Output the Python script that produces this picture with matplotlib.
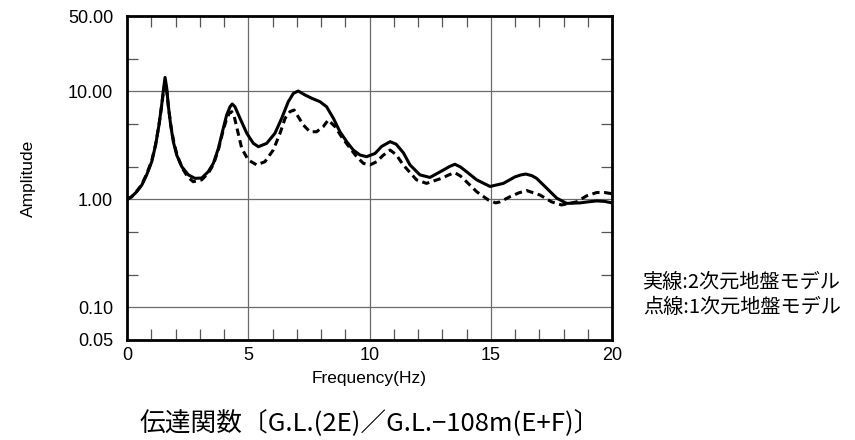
import matplotlib
matplotlib.use("Agg")
import matplotlib.pyplot as plt
from matplotlib.ticker import FixedLocator, NullFormatter, FixedFormatter

plt.rcParams['font.family'] = ['Liberation Sans Narrow', 'Liberation Sans', 'DejaVu Sans']

# Solid: 2D ground model
freq_2d = [0.0, 0.19, 0.40, 0.61, 0.81, 1.02, 1.18, 1.32, 1.43, 1.51, 1.57, 1.64, 1.70,
           1.80, 1.91, 2.05, 2.26, 2.53, 2.80, 3.08, 3.35, 3.56, 3.77, 3.97, 4.11, 4.25,
           4.34, 4.45, 4.66, 4.94, 5.21, 5.42, 5.76, 6.10, 6.38, 6.65, 6.86, 7.06, 7.34,
           7.62, 7.96, 8.23, 8.51, 8.78, 9.06, 9.33, 9.61, 9.88, 10.23, 10.50, 10.85,
           11.10, 11.40, 11.67, 12.08, 12.49, 13.04, 13.30, 13.52, 13.75, 14.00, 14.42,
           14.97, 15.52, 16.00, 16.25, 16.45, 16.70, 16.89, 17.31, 17.72, 18.13, 18.68,
           19.00, 19.37, 19.70, 20.0]
amp_2d = [1.00, 1.06, 1.18, 1.36, 1.69, 2.24, 3.20, 4.90, 7.50, 10.7, 13.5, 10.7, 7.50,
          4.90, 3.43, 2.58, 2.01, 1.69, 1.57, 1.58, 1.81, 2.16, 2.98, 4.56, 6.06, 7.23,
          7.66, 7.23, 5.65, 4.10, 3.31, 3.08, 3.31, 4.10, 5.65, 8.04, 9.60, 10.1, 9.29,
          8.65, 8.04, 7.23, 5.65, 4.24, 3.43, 2.87, 2.58, 2.49, 2.67, 3.10, 3.43,
          3.25, 2.70, 2.09, 1.69, 1.60, 1.87, 2.02, 2.12, 2.00, 1.81, 1.52,
          1.32, 1.41, 1.62, 1.69, 1.72, 1.66, 1.57, 1.27, 1.03, 0.92, 0.93,
          0.95, 0.97, 0.96, 0.93]

# Dashed: 1D ground model
freq_1d = [0.0, 0.19, 0.40, 0.61, 0.81, 1.02, 1.18, 1.32, 1.43, 1.51, 1.57, 1.64, 1.71,
           1.81, 1.93, 2.07, 2.28, 2.50, 2.73, 3.08, 3.35, 3.56, 3.77, 3.97, 4.11, 4.22,
           4.32, 4.42, 4.52, 4.73, 5.00, 5.35, 5.69, 6.03, 6.31, 6.52, 6.72, 6.89, 7.06,
           7.27, 7.54, 7.82, 8.09, 8.30, 8.58, 8.85, 9.20, 9.47, 9.75, 10.02, 10.30,
           10.55, 10.85, 11.10, 11.39, 11.94, 12.35, 12.97, 13.30, 13.52, 13.75, 14.00,
           14.42, 14.90, 15.20, 15.38, 15.79, 16.15, 16.48, 17.03, 17.51, 17.92, 18.54,
           18.95, 19.37, 19.70, 20.0]
amp_1d = [1.00, 1.06, 1.19, 1.38, 1.72, 2.28, 3.25, 4.95, 7.40, 10.3, 12.0, 10.0, 7.20,
          4.80, 3.40, 2.55, 1.95, 1.62, 1.46, 1.52, 1.75, 2.10, 2.90, 4.40, 5.60, 6.30,
          6.50, 5.90, 4.72, 2.98, 2.32, 2.09, 2.24, 2.87, 4.10, 5.65, 6.50, 6.74, 5.84,
          4.90, 4.24, 4.24, 4.72, 5.45, 4.72, 3.80, 2.98, 2.49, 2.16, 2.09, 2.24,
          2.55, 2.87, 2.60, 2.09, 1.52, 1.41, 1.57, 1.70, 1.77, 1.65, 1.46,
          1.18, 0.99, 0.93, 0.95, 1.06, 1.15, 1.21, 1.10, 0.95, 0.89, 0.95,
          1.08, 1.16, 1.16, 1.13]

y_major = [0.05, 0.1, 1, 10, 50]
y_labels = ['0.05', '0.10', '1.00', '10.00', '50.00']
y_minor = [0.2, 0.5, 2, 5, 20]
y_grid = [0.1, 1, 10]
x_major = [0, 5, 10, 15, 20]
x_labels = ['0', '5', '10', '15', '20']
x_minor = [1, 2, 3, 4, 6, 7, 8, 9, 11, 12, 13, 14, 16, 17, 18, 19]
x_grid = [5, 10, 15]

fig = plt.figure(figsize=(8.55, 4.4), dpi=100)
ax = fig.add_axes([127/855, 1 - 340/440, (612-127)/855, (340-16)/440])

ax.set_yscale('log')
ax.set_xlim(0, 20)
ax.set_ylim(0.05, 50)

for g in y_grid:
    ax.axhline(g, color='#6a6a6a', lw=0.9, zorder=1)
for g in x_grid:
    ax.axvline(g, color='#6a6a6a', lw=0.9, zorder=1)

ax.plot(freq_1d, amp_1d, color='black', lw=2.2, ls=(0, (2.4, 1.5)), zorder=3,
        dash_joinstyle='round', dash_capstyle='butt')
ax.plot(freq_2d, amp_2d, color='black', lw=2.2, zorder=4, solid_joinstyle='round')

ax.yaxis.set_major_locator(FixedLocator(y_major))
ax.yaxis.set_major_formatter(FixedFormatter(y_labels))
ax.yaxis.set_minor_locator(FixedLocator(y_minor))
ax.yaxis.set_minor_formatter(NullFormatter())
ax.xaxis.set_major_locator(FixedLocator(x_major))
ax.xaxis.set_major_formatter(FixedFormatter(x_labels))
ax.xaxis.set_minor_locator(FixedLocator(x_minor))

ax.tick_params(which='major', length=0, labelsize=13, pad=10)
ax.tick_params(axis='x', which='major', pad=5)
ax.tick_params(which='minor', direction='in', length=8, width=0.9, color='#555555',
               top=True, right=True)

for s in ax.spines.values():
    s.set_linewidth(2.0)
    s.set_color('black')

ax.set_xlabel('Frequency(Hz)', fontsize=12.5, labelpad=5)
fig.text(28/855, 1 - 178/440, 'Amplitude', rotation=90, fontsize=12.5,
         ha='center', va='center')

cjk = ['Noto Sans CJK JP', 'DejaVu Sans']
fig.text(370/855, 1 - 423/440, '伝達関数〔G.L.(2E)／G.L.−108m(E+F)〕',
         fontsize=18.5, family=cjk, ha='center', va='center')
fig.text(643/855, 1 - 282/440, '実線:2次元地盤モデル', fontsize=14.5, family=cjk,
         ha='left', va='center')
fig.text(643/855, 1 - 307/440, '点線:1次元地盤モデル', fontsize=14.5, family=cjk,
         ha='left', va='center')

fig.savefig('out.png', dpi=100)
